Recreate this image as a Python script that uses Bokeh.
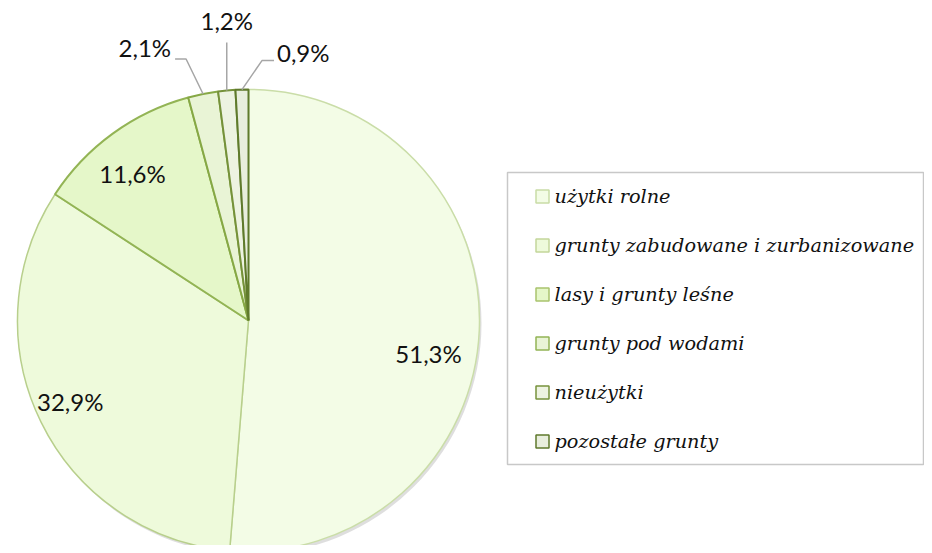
import math
from bokeh.plotting import figure
from bokeh.models import Range1d
from bokeh.core.properties import value
from bokeh.embed import file_html
from bokeh.resources import INLINE

# ---- data ----
categories = ["użytki rolne", "grunty zabudowane i zurbanizowane", "lasy i grunty leśne",
              "grunty pod wodami", "nieużytki", "pozostałe grunty"]
shares = [51.3, 32.9, 11.6, 2.1, 1.2, 0.9]
share_labels = ["51,3%", "32,9%", "11,6%", "2,1%", "1,2%", "0,9%"]

# ---- styles ----
fills = ["#f3fce6", "#eefadb", "#e5f7c9", "#e9f4d6", "#edf3e1", "#e8eedd"]
edges = ["#cadda8", "#b8cf8c", "#93b455", "#86a845", "#75913a", "#5f7a2c"]
legend_edges = ["#c9dca6", "#c3d69b", "#a9c46e", "#93b455", "#77933c", "#5f7a2c"]

W, H = 924, 545
p = figure(width=W, height=H, x_range=Range1d(0, W), y_range=Range1d(0, H),
           output_backend="svg", toolbar_location=None, min_border=0)
p.axis.visible = False
p.grid.visible = False
p.outline_line_color = None
p.background_fill_color = "white"

def Y(img_y):
    return H - img_y

cx, cy, R = 248, Y(320), 231

# shadow
p.circle(x=[cx + 2], y=[cy - 3], radius=R, fill_color="#a0a0a0", fill_alpha=0.35, line_color=None)

total = sum(shares)
starts, ends, mids = [], [], []
acc = 0.0
for s in shares:
    a0 = math.pi / 2 - 2 * math.pi * acc / total
    acc += s
    a1 = math.pi / 2 - 2 * math.pi * acc / total
    starts.append(a0)
    ends.append(a1)
    mids.append((a0 + a1) / 2)

for i in range(len(shares)):
    p.wedge(x=cx, y=cy, radius=R, start_angle=starts[i], end_angle=ends[i], direction="clock",
            fill_color=fills[i], line_color=edges[i], line_width=2 if i >= 2 else 1.5)

# inside labels (radius fraction + pixel nudge)
lab_font = value("Lato")
r_in = [0.78, 0.84, 0.81]
nudge = [(0, -26), (-4, 4), (-6, -4)]
xs, ys, ts = [], [], []
for i in range(3):
    xs.append(cx + r_in[i] * R * math.cos(mids[i]) + nudge[i][0])
    ys.append(cy + r_in[i] * R * math.sin(mids[i]) + nudge[i][1])
    ts.append(share_labels[i])
p.text(x=xs, y=ys, text=ts, text_font=lab_font, text_font_size="24px",
       text_align="center", text_baseline="middle", text_color="#111111")

# outside labels with leader lines (elbow offsets in pixels)
elbows = [[(-17, 35), (-28, 35)], [(0, 48), (0, 48)], [(20, 29), (32, 29)]]
label_off = [(-4, 47, "right"), (0, 70, "center"), (3, 37, "left")]
for k, i in enumerate(range(3, 6)):
    ex = cx + R * math.cos(mids[i])
    ey = cy + R * math.sin(mids[i])
    pts_x = [ex] + [ex + e[0] for e in elbows[k]]
    pts_y = [ey] + [ey + e[1] for e in elbows[k]]
    p.line(x=pts_x, y=pts_y, line_color="#a6a6a6", line_width=1.5)
    lx = pts_x[-1] + label_off[k][0]
    ly = ey + label_off[k][1]
    p.text(x=[lx], y=[ly], text=[share_labels[i]], text_font=lab_font, text_font_size="24px",
           text_align=label_off[k][2], text_baseline="middle", text_color="#111111")

# legend
p.quad(left=[507], right=[W - 1], top=[Y(172)], bottom=[Y(464)], fill_color="white",
       line_color="#c8c8c8", line_width=1.5)
leg_y = [Y(196 + 49 * i) for i in range(len(categories))]
p.rect(x=[542] * len(categories), y=leg_y, width=13, height=13, fill_color=fills,
       line_color=legend_edges, line_width=1.5)
p.text(x=[554] * len(categories), y=leg_y, text=categories, text_font=value("DejaVu Serif"),
       text_font_style="italic", text_font_size="19.3px", text_align="left",
       text_baseline="middle", text_color="#111111")

open("out.html", "w").write(file_html(p, INLINE))
